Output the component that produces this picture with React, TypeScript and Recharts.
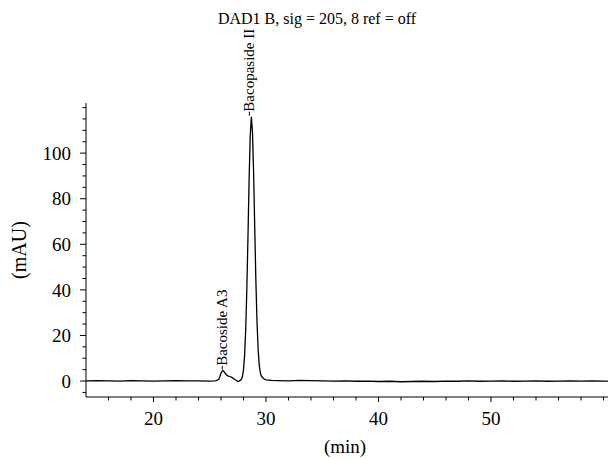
import React from "react";
import { LineChart, Line, XAxis, YAxis, ReferenceDot } from "recharts";

const FONT = "'Liberation Serif', 'Times New Roman', serif";

const chartTitle = "DAD1 B, sig = 205, 8 ref = off";
const xLabel = "(min)";
const yLabel = "(mAU)";

// retention time (min)
const times = [
  14, 15, 16, 17, 18, 19, 20, 21, 22, 23, 24, 25, 25.4, 25.6,
  25.8, 25.9, 26.0, 26.1, 26.2, 26.3, 26.4, 26.5, 26.6, 26.8, 27.0, 27.2, 27.4, 27.5, 27.6,
  27.7, 27.8, 27.9, 28.0, 28.1, 28.2, 28.3, 28.4, 28.5, 28.6, 28.7, 28.8, 28.9, 29.0, 29.1,
  29.2, 29.3, 29.4, 29.5, 29.6, 29.8, 30.0, 30.5, 31, 32, 33, 34, 35, 36, 37, 38, 39, 40,
  41, 42, 43, 44, 45, 46, 47, 48, 49, 50, 51, 52, 53, 54, 55, 56, 57, 58, 59, 60, 60.4,
];
// absorbance (mAU)
const signal = [
  0.1, 0.2, 0.1, 0.0, 0.2, 0.1, 0.0, 0.1, 0.2, 0.1, 0.1, 0.0, 0.1, 0.2,
  0.8, 2.0, 3.5, 4.3, 4.5, 4.0, 3.2, 2.6, 2.3, 2.0, 1.5, 0.8, 0.1, -0.2, 0.0,
  0.3, 0.6, 2.0, 5.0, 11.5, 23, 41, 64, 89, 108, 116, 109, 91, 67, 44,
  26, 14, 7, 3.5, 2.0, 1.0, 0.5, 0.3, 0.2, 0.1, 0.3, 0.2, 0.1, 0.0, 0.1, -0.1, 0.0, -0.2,
  -0.1, -0.3, -0.2, -0.1, -0.2, 0.0, -0.1, 0.1, -0.1, 0.0, 0.1, -0.1, 0.0, 0.1, -0.1, 0.0, 0.1, 0.0, 0.1, 0.0, 0.0,
];

const xTicks = [16, 18, 20, 22, 24, 26, 28, 30, 32, 34, 36, 38, 40, 42, 44, 46, 48, 50, 52, 54, 56, 58, 60];
const xMajor = [20, 30, 40, 50];
const yTicks = [-5, 0, 5, 10, 15, 20, 25, 30, 35, 40, 45, 50, 55, 60, 65, 70, 75, 80, 85, 90, 95, 100, 105, 110, 115, 120];
const yMajor = [0, 20, 40, 60, 80, 100];

const peakNames = ["Bacoside A3", "Bacopaside II"];
const peakTimes = [26.2, 28.7];
const peakHeights = [4.5, 116];

const data = times.map((t, i) => ({ t, v: signal[i] }));

const XTick = (props: any) => {
  const { x, y, payload } = props;
  const major = xMajor.includes(payload.value);
  return (
    <g>
      <line x1={x} x2={x} y1={y} y2={y + (major ? 5 : 3.5)} stroke="#000" strokeWidth={1} />
      {major && (
        <text x={x} y={y + 28} textAnchor="middle" fontFamily={FONT} fontSize={19} fill="#000">
          {payload.value}
        </text>
      )}
    </g>
  );
};

const YTick = (props: any) => {
  const { x, y, payload } = props;
  const major = yMajor.includes(payload.value);
  return (
    <g>
      <line x1={x - (major ? 6 : 3.5)} x2={x} y1={y} y2={y} stroke="#000" strokeWidth={1} />
      {major && (
        <text x={x - 15} y={y} dy="0.35em" textAnchor="end" fontFamily={FONT} fontSize={19} fill="#000">
          {payload.value}
        </text>
      )}
    </g>
  );
};

const PeakLabel = (props: any) => {
  const { viewBox, text, dx } = props;
  if (!viewBox) return null;
  const cx = viewBox.x + (viewBox.width || 0) / 2 + (dx || 0);
  const cy = viewBox.y + (viewBox.height || 0) / 2;
  return (
    <g>
      <line x1={cx} x2={cx} y1={cy - 1} y2={cy - 5} stroke="#000" strokeWidth={1} />
      <text
        x={cx}
        y={cy - 5}
        transform={`rotate(-90 ${cx} ${cy - 5})`}
        textAnchor="start"
        dominantBaseline="central"
        fontFamily={FONT}
        fontSize={15}
        fill="#000"
      >
        {text}
      </text>
    </g>
  );
};

const YLabel = (props: any) => {
  const { viewBox } = props;
  const x = viewBox.x + 19;
  const y = viewBox.y + viewBox.height / 2;
  return (
    <text x={x} y={y} transform={`rotate(-90 ${x} ${y})`} textAnchor="middle" dominantBaseline="central"
      fontFamily={FONT} fontSize={20} fill="#000">
      {yLabel}
    </text>
  );
};

const XLabel = (props: any) => {
  const { viewBox } = props;
  const x = viewBox.x + viewBox.width / 2 - 2;
  const y = viewBox.y + 56;
  return (
    <text x={x} y={y} textAnchor="middle" fontFamily={FONT} fontSize={19} fill="#000">
      {xLabel}
    </text>
  );
};

export default function App() {
  return (
    <div style={{ position: "absolute", left: 0, top: 0, width: 608, height: 459, background: "#fff" }}>
      <div
        style={{
          position: "absolute",
          left: 0,
          top: 11,
          width: 634,
          textAlign: "center",
          fontFamily: FONT,
          fontSize: 16,
          lineHeight: "16px",
          color: "#000",
          whiteSpace: "nowrap",
        }}
      >
        {chartTitle}
      </div>
      <LineChart width={608} height={459} data={data} margin={{ top: 103, right: 0, bottom: 32, left: 0 }}>
        <XAxis
          dataKey="t"
          type="number"
          domain={[14, 60.4]}
          ticks={xTicks}
          interval={0}
          allowDataOverflow
          height={30}
          tickLine={false}
          tickSize={0}
          tickMargin={0}
          tick={<XTick />}
          axisLine={{ stroke: "#000", strokeWidth: 1 }}
          label={<XLabel />}
        />
        <YAxis
          type="number"
          domain={[-7, 122]}
          ticks={yTicks}
          interval={0}
          allowDataOverflow
          width={86}
          tickLine={false}
          tickSize={0}
          tickMargin={0}
          tick={<YTick />}
          axisLine={{ stroke: "#000", strokeWidth: 1 }}
          label={<YLabel />}
        />
        <Line
          type="linear"
          dataKey="v"
          stroke="#000"
          strokeWidth={1.3}
          dot={false}
          isAnimationActive={false}
        />
        <ReferenceDot x={peakTimes[0]} y={peakHeights[0]} r={0} fill="none" stroke="none"
          label={<PeakLabel text={peakNames[0]} dx={-1} />} />
        <ReferenceDot x={peakTimes[1]} y={peakHeights[1]} r={0} fill="none" stroke="none"
          label={<PeakLabel text={peakNames[1]} dx={-2} />} />
      </LineChart>
    </div>
  );
}
